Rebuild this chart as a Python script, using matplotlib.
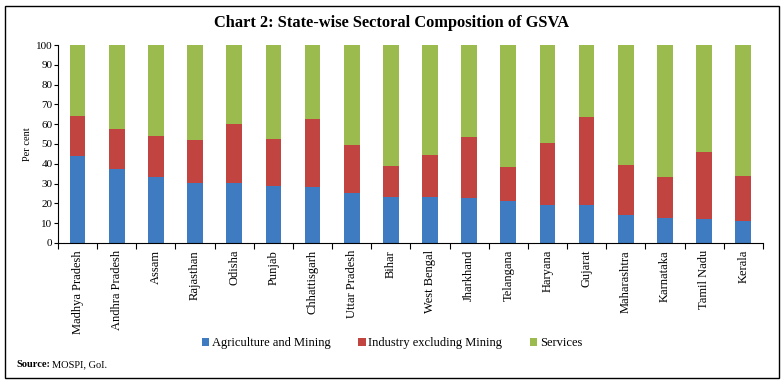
import matplotlib
matplotlib.use("Agg")
import matplotlib.pyplot as plt
from matplotlib.patches import Rectangle
import numpy as np

states = ["Madhya Pradesh", "Andhra Pradesh", "Assam", "Rajasthan", "Odisha", "Punjab",
          "Chhattisgarh", "Uttar Pradesh", "Bihar", "West Bengal", "Jharkhand", "Telangana",
          "Haryana", "Gujarat", "Maharashtra", "Karnataka", "Tamil Nadu", "Kerala"]
agri = [43.8, 37.5, 33.3, 30.5, 30.3, 29.0, 28.1, 25.3, 23.4, 23.1, 22.6, 21.2, 19.4, 19.2, 14.0, 12.8, 12.3, 11.1]
industry = [20.5, 19.9, 20.6, 21.7, 29.6, 23.4, 34.5, 24.0, 15.7, 21.2, 30.8, 17.0, 31.3, 44.3, 25.2, 20.7, 33.5, 22.6]
services = [100 - a - i for a, i in zip(agri, industry)]
series_names = ["Agriculture and Mining", "Industry excluding Mining", "Services"]
colors = ["#3F7BC0", "#C24441", "#9BBB4F"]
yticks = list(range(0, 101, 10))

plt.rcParams['font.family'] = ['Liberation Serif', 'DejaVu Serif']

fig = plt.figure(figsize=(7.84, 3.85), dpi=100)
ax = fig.add_axes([0.074, 0.369, 0.899, 0.514])

x = np.arange(len(states))
w = 0.4
ax.bar(x, agri, w, color=colors[0], label=series_names[0])
ax.bar(x, industry, w, bottom=agri, color=colors[1], label=series_names[1])
ax.bar(x, services, w, bottom=np.array(agri) + np.array(industry), color=colors[2], label=series_names[2])

ax.set_xlim(-0.5, len(states) - 0.5)
ax.set_ylim(0, 100)
ax.set_yticks(yticks)
ax.tick_params(axis='y', labelsize=8, direction='out', length=3, width=0.8, pad=1)
ax.set_xticks(x)
ax.set_xticklabels(states, rotation=90, fontsize=9)
ax.tick_params(axis='x', length=0, pad=5)
ax.set_xticks(np.arange(-0.5, len(states), 1), minor=True)
ax.tick_params(axis='x', which='minor', length=4, width=0.8, direction='out')
ax.set_ylabel("Per cent", fontsize=7.5, labelpad=3)
for s in ['top', 'right']:
    ax.spines[s].set_visible(False)
for s in ['left', 'bottom']:
    ax.spines[s].set_linewidth(0.8)

fig.text(0.5, 0.94, "Chart 2: State-wise Sectoral Composition of GSVA", ha='center', va='center',
         fontsize=11.8, fontweight='bold')

leg = fig.legend(loc='center', bbox_to_anchor=(0.5, 0.108), ncol=3, frameon=False, fontsize=9,
                 handlelength=0.6, handleheight=0.6, handletextpad=0.2, columnspacing=2.2)

fig.text(0.021, 0.052, "Source:", fontsize=7.5, fontweight='bold', va='center')
fig.text(0.066, 0.052, "MOSPI, GoI.", fontsize=7.5, va='center')

fig.patches.append(Rectangle((0.006, 0.018), 0.988, 0.966, transform=fig.transFigure,
                             fill=False, edgecolor='black', linewidth=1.0))

fig.savefig("out.png", dpi=100)
